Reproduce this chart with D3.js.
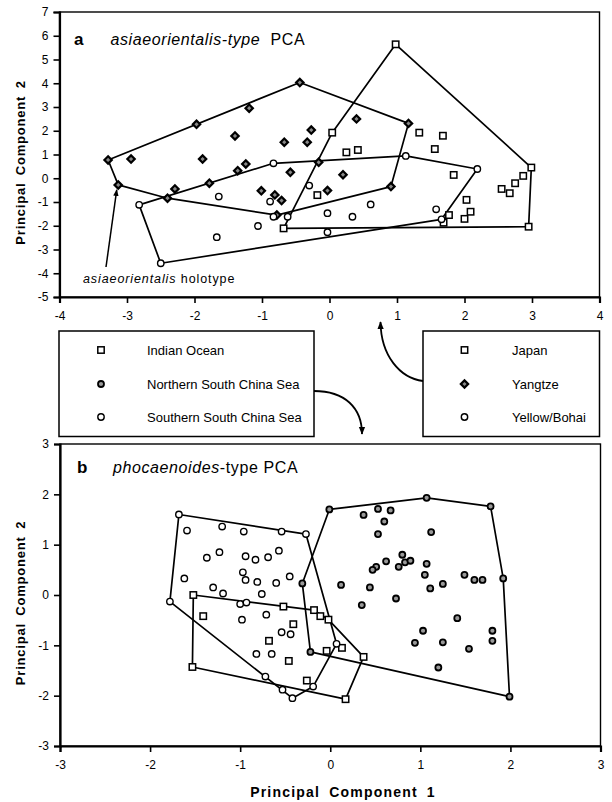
<!DOCTYPE html>
<html>
<head>
<meta charset="utf-8">
<script src="https://cdn.jsdelivr.net/npm/d3@7"></script>
<style>
  body { margin: 0; background: #fff; }
  svg { font-family: "Liberation Sans", Arial, Helvetica, sans-serif; }
</style>
</head>
<body>
<svg id="chart" width="612" height="802"></svg>
<script>
// ---- panel a : asiaeorientalis-type PCA ----
const japanA = [
  [0.98, 5.64], [2.99, 0.45], [2.95, -2.04], [-0.68, -2.11], [0.04, 1.92],
  [1.33, 1.92], [1.68, 1.79], [1.56, 1.23], [0.25, 1.09], [0.42, 1.19],
  [1.84, 0.14], [-0.18, -0.71], [2.03, -0.91], [2.55, -0.45], [2.67, -0.63],
  [2.75, -0.21], [2.87, 0.10], [1.77, -1.55], [2.09, -1.41], [2.00, -1.71],
  [1.69, -1.87]
];
const yangtzeA = [
  [-3.28, 0.77], [-2.94, 0.81], [-3.13, -0.28], [-1.97, 2.27], [-1.19, 2.95],
  [-0.44, 4.03], [-1.40, 1.78], [-1.88, 0.81], [-1.24, 0.60], [-1.36, 0.32],
  [-2.29, -0.45], [-1.78, -0.21], [-2.40, -0.84], [-0.67, 1.52], [-0.27, 2.03],
  [-0.33, 1.52], [-0.58, 0.25], [-1.01, -0.53], [-0.81, -0.70], [-0.71, -0.94],
  [-0.78, -1.55], [-0.16, 0.67], [1.17, 2.31], [0.40, 2.50], [0.20, 0.15],
  [-0.03, -0.52], [0.91, -0.35]
];
const yellowA = [
  [-2.82, -1.12], [-2.50, -3.58], [-1.64, -0.77], [-1.67, -2.48], [-1.06, -2.01],
  [-0.83, 0.63], [-0.88, -0.98], [-0.83, -1.62], [-0.62, -1.62], [-0.30, -0.31],
  [1.13, 0.94], [2.19, 0.39], [0.61, -1.10], [-0.03, -1.47], [0.34, -1.62],
  [1.58, -1.31], [1.66, -1.73], [-0.03, -2.27]
];

// ---- panel b : phocaenoides-type PCA ----
const indianB = [
  [-1.52, 0.00], [-1.41, -0.42], [-1.53, -1.43], [-0.52, -0.23], [-0.41, -0.58],
  [-0.68, -0.91], [-0.46, -1.31], [-0.26, -1.70], [-0.18, -0.30], [-0.11, -0.42],
  [-0.02, -0.49], [-0.04, -1.11], [0.13, -1.05], [0.37, -1.23], [0.17, -2.07]
];
const northB = [
  [-0.01, 1.70], [1.07, 1.93], [1.78, 1.76], [1.92, 0.33], [1.99, -2.02],
  [-0.22, -1.13], [-0.31, 0.23], [0.37, 1.59], [0.53, 1.71], [0.67, 1.68],
  [0.60, 1.46], [0.53, 1.21], [1.12, 1.25], [0.80, 0.80], [0.76, 0.56],
  [0.83, 0.65], [0.89, 0.68], [0.62, 0.67], [0.51, 0.56], [0.47, 0.50],
  [1.07, 0.62], [1.05, 0.40], [1.11, 0.13], [1.25, 0.22], [1.49, 0.40],
  [1.60, 0.30], [1.69, 0.30], [0.12, 0.20], [0.44, 0.15], [0.35, -0.20],
  [0.73, -0.07], [1.41, -0.46], [1.80, -0.71], [1.80, -0.91], [1.03, -0.71],
  [0.94, -0.95], [1.25, -0.94], [1.54, -1.07], [1.20, -1.44]
];
const southB = [
  [-1.68, 1.60], [-1.59, 1.28], [-1.20, 1.36], [-0.96, 1.26], [-0.54, 1.26],
  [-0.27, 1.21], [-1.37, 0.74], [-1.23, 0.85], [-0.94, 0.77], [-0.83, 0.70],
  [-0.69, 0.75], [-0.57, 0.88], [-1.62, 0.33], [-0.97, 0.45], [-0.94, 0.30],
  [-0.81, 0.26], [-0.60, 0.24], [-0.45, 0.37], [-1.30, 0.15], [-1.19, 0.03],
  [-0.76, 0.02], [-1.78, -0.13], [-1.00, -0.18], [-0.93, -0.15], [-0.98, -0.49],
  [-0.71, -0.39], [-0.54, -0.74], [-0.44, -0.78], [-0.82, -1.17], [-0.65, -1.17],
  [-0.72, -1.62], [-0.53, -1.88], [-0.42, -2.05], [-0.19, -1.82], [0.07, -0.97]
];

const xTicksA = [-4, -3, -2, -1, 0, 1, 2, 3, 4];
const yTicksA = [-5, -4, -3, -2, -1, 0, 1, 2, 3, 4, 5, 6, 7];
const xTicksB = [-3, -2, -1, 0, 1, 2, 3];
const yTicksB = [-3, -2, -1, 0, 1, 2, 3];

const legendA = ["Japan", "Yangtze", "Yellow/Bohai"];
const legendB = ["Indian Ocean", "Northern South China Sea", "Southern South China Sea"];

const svg = d3.select("#chart");

const defs = svg.append("defs");
defs.append("marker")
  .attr("id", "head")
  .attr("viewBox", "0 0 10 10")
  .attr("refX", 9).attr("refY", 5)
  .attr("markerWidth", 4.5).attr("markerHeight", 4.5)
  .attr("markerUnits", "strokeWidth")
  .attr("orient", "auto")
  .append("path")
  .attr("d", "M0,1 L10,5 L0,9 Z")
  .attr("fill", "#000");

// marker drawing
function drawMarker(g, shape, cx, cy) {
  if (shape === "square") {
    g.append("rect")
      .attr("x", cx - 3.2).attr("y", cy - 3.2)
      .attr("width", 6.4).attr("height", 6.4)
      .attr("fill", "#fff").attr("stroke", "#000").attr("stroke-width", 1.5);
  } else if (shape === "diamond") {
    g.append("rect")
      .attr("x", -2.6).attr("y", -2.6)
      .attr("width", 5.2).attr("height", 5.2)
      .attr("transform", `translate(${cx},${cy}) rotate(45)`)
      .attr("fill", "#888").attr("stroke", "#000").attr("stroke-width", 2.2);
  } else if (shape === "gray") {
    g.append("circle")
      .attr("cx", cx).attr("cy", cy).attr("r", 3.0)
      .attr("fill", "#999").attr("stroke", "#000").attr("stroke-width", 1.8);
  } else {
    g.append("circle")
      .attr("cx", cx).attr("cy", cy).attr("r", 3.2)
      .attr("fill", "#fff").attr("stroke", "#000").attr("stroke-width", 1.4);
  }
}

function panel(x, y, xTicks, yTicks, groups) {
  const g = svg.append("g");
  const [x0, x1] = x.range();
  const [y0, y1] = y.range();

  // frame
  g.append("rect")
    .attr("x", x0).attr("y", y1)
    .attr("width", x1 - x0).attr("height", y0 - y1)
    .attr("fill", "none").attr("stroke", "#000").attr("stroke-width", 1.4);

  const xAxis = g.append("g")
    .attr("transform", `translate(0,${y0})`)
    .call(d3.axisBottom(x).tickValues(xTicks).tickSize(6).tickPadding(8).tickFormat(d3.format("d")));
  const yAxis = g.append("g")
    .attr("transform", `translate(${x0},0)`)
    .call(d3.axisLeft(y).tickValues(yTicks).tickSize(6).tickPadding(5).tickFormat(d3.format("d")));
  [xAxis, yAxis].forEach(a => {
    a.select(".domain").attr("stroke-width", 2.2);
    a.selectAll(".tick line").attr("stroke-width", 1.6);
    a.selectAll("text").attr("font-size", 12).attr("fill", "#000")
      .attr("font-family", "'Liberation Sans', Arial, sans-serif");
  });
  // plain hyphen minus, as in the original
  g.selectAll(".tick text").text(d => String(d));

  const line = d3.line().x(p => x(p[0])).y(p => y(p[1])).curve(d3.curveLinearClosed);
  groups.forEach(gr => {
    g.append("path")
      .attr("d", line(d3.polygonHull(gr.pts)))
      .attr("fill", "none").attr("stroke", "#000").attr("stroke-width", 1.7)
      .attr("stroke-linejoin", "round");
  });
  groups.forEach(gr => {
    gr.pts.forEach(p => drawMarker(g, gr.shape, x(p[0]), y(p[1])));
  });

  // y axis title
  g.append("text")
    .attr("transform", `translate(25,${(y0 + y1) / 2 + 8}) rotate(-90)`)
    .attr("text-anchor", "middle")
    .attr("font-size", 13).attr("font-weight", "bold")
    .attr("letter-spacing", 0.8).attr("word-spacing", 3)
    .text("Principal Component 2");
  return g;
}

const xA = d3.scaleLinear().domain([-4, 4]).range([59.5, 599.5]);
const yA = d3.scaleLinear().domain([-5, 7]).range([297, 12]);
const xB = d3.scaleLinear().domain([-3, 3]).range([60, 600.5]);
const yB = d3.scaleLinear().domain([-3, 3]).range([746, 444]);

const gA = panel(xA, yA, xTicksA, yTicksA, [
  { pts: japanA, shape: "square" },
  { pts: yangtzeA, shape: "diamond" },
  { pts: yellowA, shape: "circle" }
]);
const gB = panel(xB, yB, xTicksB, yTicksB, [
  { pts: indianB, shape: "square" },
  { pts: northB, shape: "gray" },
  { pts: southB, shape: "circle" }
]);

// panel titles
const tA = gA.append("text").attr("x", 74).attr("y", 45).attr("font-size", 16).attr("letter-spacing", 0.6);
tA.append("tspan").attr("font-weight", "bold").attr("font-size", 17).text("a");
tA.append("tspan").attr("x", 110.5).attr("font-style", "italic").text("asiaeorientalis-type");
tA.append("tspan").text("\u00a0 PCA");

const tB = gB.append("text").attr("x", 77).attr("y", 473).attr("font-size", 16).attr("letter-spacing", 0.6);
tB.append("tspan").attr("font-weight", "bold").attr("font-size", 17).text("b");
tB.append("tspan").attr("x", 113).attr("font-style", "italic").text("phocaenoides");
tB.append("tspan").text("-type PCA");

// holotype note
const holo = yangtzeA[2];
gA.append("line")
  .attr("x1", 106).attr("y1", 267)
  .attr("x2", xA(holo[0]) - 1.5).attr("y2", yA(holo[1]) + 5)
  .attr("stroke", "#000").attr("stroke-width", 1.5)
  .attr("marker-end", "url(#head)");
const hn = gA.append("text").attr("x", 83).attr("y", 283).attr("font-size", 12.5).attr("letter-spacing", 0.9);
hn.append("tspan").attr("font-style", "italic").text("asiaeorientalis");
hn.append("tspan").text(" holotype");

// x axis title
svg.append("text")
  .attr("x", 343).attr("y", 797)
  .attr("text-anchor", "middle")
  .attr("font-size", 14).attr("font-weight", "bold")
  .attr("letter-spacing", 1.2).attr("word-spacing", 4)
  .text("Principal Component 1");

// legends
function legend(x0, x1, labels, shapes, mx, tx) {
  const g = svg.append("g");
  g.append("rect")
    .attr("x", x0).attr("y", 331)
    .attr("width", x1 - x0).attr("height", 105.5)
    .attr("fill", "#fff").attr("stroke", "#000").attr("stroke-width", 1.5);
  const rows = [350, 384, 417];
  labels.forEach((lab, i) => {
    drawMarker(g, shapes[i], mx, rows[i]);
    g.append("text")
      .attr("x", tx).attr("y", rows[i] + 4.5)
      .attr("font-size", 13)
      .text(lab);
  });
}
legend(59, 314, legendB, ["square", "gray", "circle"], 101, 147);
legend(423, 599.5, legendA, ["square", "diamond", "circle"], 464.5, 512);

// connector arrows
svg.append("path")
  .attr("d", "M423,381 C400,378 381,356 380.5,322")
  .attr("fill", "none").attr("stroke", "#000").attr("stroke-width", 1.8)
  .attr("marker-end", "url(#head)");
svg.append("path")
  .attr("d", "M314,391 C345,391 362,408 362,434")
  .attr("fill", "none").attr("stroke", "#000").attr("stroke-width", 1.8)
  .attr("marker-end", "url(#head)");
</script>
</body>
</html>
